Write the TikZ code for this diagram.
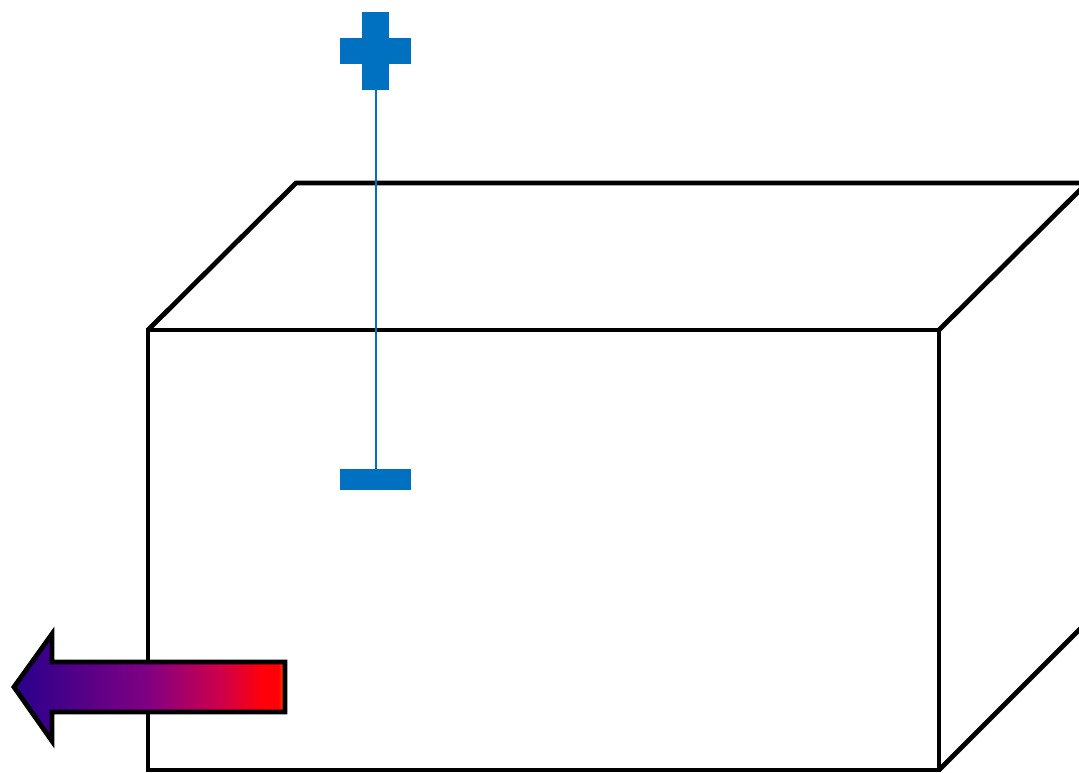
\documentclass[tikz,border=0pt]{standalone}
\usepackage{xcolor}
\usepackage{tikz}

\definecolor{termblue}{RGB}{0,112,192}
\definecolor{heatA}{RGB}{40,0,140}
\definecolor{heatB}{RGB}{130,0,130}
\definecolor{heatC}{RGB}{205,0,75}
\definecolor{heatD}{RGB}{255,0,8}
\definecolor{heatE}{RGB}{255,100,0}
\pgfdeclarehorizontalshading{heatarrow}{100bp}{color(0bp)=(heatA); color(25bp)=(heatA);
  color(50bp)=(heatB); color(63bp)=(heatC); color(71bp)=(heatD); color(73.8bp)=(heatD);
  color(75bp)=(heatE); color(100bp)=(heatE)}

\begin{document}
\begin{tikzpicture}[x=1pt,y=-1pt,line join=miter]
  \useasboundingbox (0,0) rectangle (1079,773);
  \clip (0,0) rectangle (1079,773);
  % box
  \draw[line width=4.8pt] (148,330) rectangle (939,770);
  \draw[line width=4.8pt] (148,330) -- (296,183) -- (1087,183) -- (939,330);
  \draw[line width=4.8pt] (939,770) -- (1087,622);
  % terminals
  \draw[termblue,line width=1.8pt] (376,90) -- (376,469);
  \fill[termblue] (362,12) rectangle (389,90);
  \fill[termblue] (340,38) rectangle (411,64);
  \fill[termblue] (340,469) rectangle (411,490);
  % arrow
  \draw[line width=4.8pt,shade,shading=heatarrow] (14,687) -- (52,634) -- (52,662) -- (285,662)
    -- (285,712) -- (52,712) -- (52,741) -- cycle;
\end{tikzpicture}
\end{document}
